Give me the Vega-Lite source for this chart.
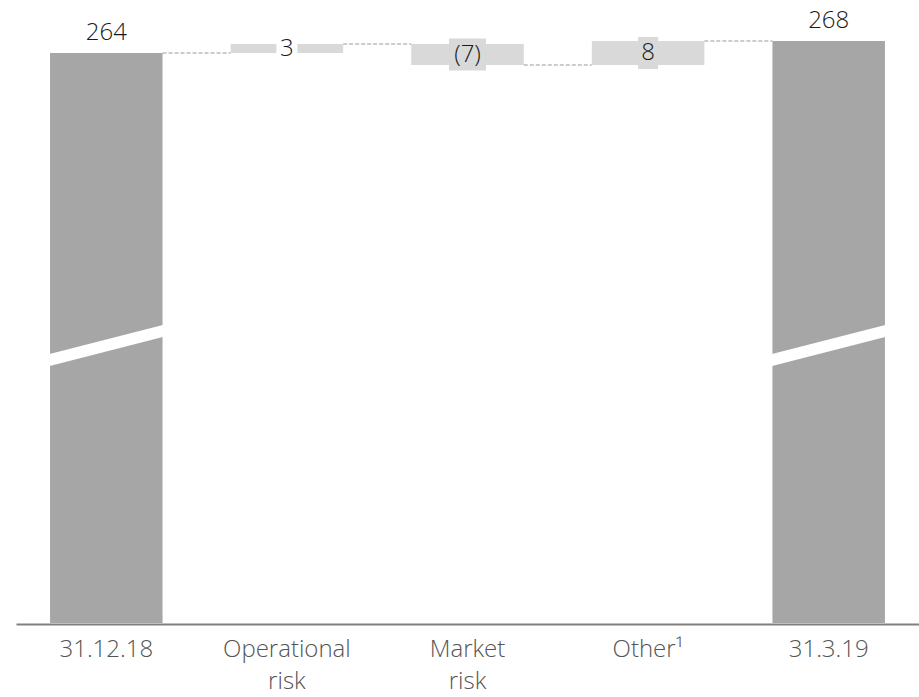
{
  "$schema": "https://vega.github.io/schema/vega-lite/v6.json",
  "width": 903,
  "height": 623,
  "autosize": "none",
  "padding": {"left": 16, "top": 0, "right": 0, "bottom": 74},
  "background": "white",
  "config": {
    "view": {"stroke": null},
    "font": "Open Sans",
    "axisX": {"title": null, "domainColor": "#808080", "domainWidth": 2, "ticks": false, "tickSize": 0, "offset": 1,
              "labelFontSize": 24, "labelColor": "#555555", "labelFont": "Open Sans", "labelFontWeight": 300,
              "labelPadding": 13, "labelLineHeight": 32, "labelAngle": 0, "labelLimit": 0, "grid": false,
              "labelExpr": "split(datum.label, ' ')"}
  },
  "datasets": {
    "bars": [
      {"cat": "31.12.18", "start": 0, "end": 264, "label": "264", "kind": "total"},
      {"cat": "Operational risk", "start": 264, "end": 267, "label": "3", "kind": "delta"},
      {"cat": "Market risk", "start": 267, "end": 260, "label": "(7)", "kind": "delta"},
      {"cat": "Other¹", "start": 260, "end": 268, "label": "8", "kind": "delta"},
      {"cat": "31.3.19", "start": 0, "end": 268, "label": "268", "kind": "total"}
    ],
    "links": [
      {"from": "31.12.18", "to": "Operational risk", "level": 264},
      {"from": "Operational risk", "to": "Market risk", "level": 267},
      {"from": "Market risk", "to": "Other¹", "level": 260},
      {"from": "Other¹", "to": "31.3.19", "level": 268}
    ],
    "breaks": [
      {"cat": "31.12.18", "lo": 161.7, "hi": 171.3},
      {"cat": "31.3.19", "lo": 161.7, "hi": 171.3}
    ]
  },
  "layer": [
    {
      "data": {"name": "bars"},
      "mark": {"type": "bar"},
      "encoding": {
        "x": {"field": "cat", "type": "nominal", "sort": null, "title": null,
              "scale": {"domain": ["31.12.18", "Operational risk", "Market risk", "Other¹", "31.3.19"], "paddingInner": 0.377, "paddingOuter": 0.1885}},
        "y": {"field": "start", "type": "quantitative", "axis": null,
              "scale": {"domain": [74, 281.67], "nice": false, "zero": false, "clamp": true}},
        "y2": {"field": "end"},
        "color": {"field": "kind", "type": "nominal", "legend": null,
                  "scale": {"domain": ["total", "delta"], "range": ["#a6a6a6", "#d9d9d9"]}}
      }
    },
    {
      "data": {"name": "links"},
      "mark": {"type": "rule", "strokeDash": [4, 2], "color": "#999999", "strokeWidth": 1},
      "encoding": {
        "x": {"field": "from", "type": "nominal", "bandPosition": 1, "title": null,
              "scale": {"domain": ["31.12.18", "Operational risk", "Market risk", "Other¹", "31.3.19"], "paddingInner": 0.377, "paddingOuter": 0.1885}},
        "x2": {"field": "to", "bandPosition": 0},
        "y": {"field": "level", "type": "quantitative", "axis": null,
              "scale": {"domain": [74, 281.67], "nice": false, "zero": false, "clamp": true}}
      }
    },
    {
      "data": {"name": "breaks"},
      "mark": {"type": "rule", "color": "white", "strokeWidth": 11.6, "strokeCap": "square"},
      "encoding": {
        "x": {"field": "cat", "type": "nominal", "bandPosition": 0, "title": null,
              "scale": {"domain": ["31.12.18", "Operational risk", "Market risk", "Other¹", "31.3.19"], "paddingInner": 0.377, "paddingOuter": 0.1885}},
        "x2": {"field": "cat", "bandPosition": 1},
        "y": {"field": "lo", "type": "quantitative", "axis": null,
              "scale": {"domain": [74, 281.67], "nice": false, "zero": false, "clamp": true}},
        "y2": {"field": "hi"}
      }
    },
    {
      "data": {"name": "bars"},
      "transform": [
        {"filter": "datum.kind == 'delta'"},
        {"calculate": "(datum.start + datum.end) / 2", "as": "mid"}
      ],
      "layer": [
        {
          "transform": [{"filter": "datum.cat == 'Market risk'"}],
          "mark": {"type": "tick", "size": 37, "thickness": 32, "color": "#d9d9d9", "opacity": 1},
          "encoding": {
            "x": {"field": "cat", "type": "nominal", "title": null,
                  "scale": {"domain": ["31.12.18", "Operational risk", "Market risk", "Other¹", "31.3.19"], "paddingInner": 0.377, "paddingOuter": 0.1885}},
            "y": {"field": "mid", "type": "quantitative", "axis": null,
                  "scale": {"domain": [74, 281.67], "nice": false, "zero": false, "clamp": true}}
          }
        },
        {
          "transform": [{"filter": "datum.cat == 'Other¹'"}],
          "mark": {"type": "tick", "size": 20, "thickness": 32, "color": "#d9d9d9", "opacity": 1},
          "encoding": {
            "x": {"field": "cat", "type": "nominal", "title": null,
                  "scale": {"domain": ["31.12.18", "Operational risk", "Market risk", "Other¹", "31.3.19"], "paddingInner": 0.377, "paddingOuter": 0.1885}},
            "y": {"field": "mid", "type": "quantitative", "axis": null,
                  "scale": {"domain": [74, 281.67], "nice": false, "zero": false, "clamp": true}}
          }
        },
        {
          "transform": [{"filter": "datum.cat == 'Operational risk'"}],
          "mark": {"type": "tick", "size": 21, "thickness": 32, "color": "white", "opacity": 1},
          "encoding": {
            "x": {"field": "cat", "type": "nominal", "title": null,
                  "scale": {"domain": ["31.12.18", "Operational risk", "Market risk", "Other¹", "31.3.19"], "paddingInner": 0.377, "paddingOuter": 0.1885}},
            "y": {"field": "mid", "type": "quantitative", "axis": null,
                  "scale": {"domain": [74, 281.67], "nice": false, "zero": false, "clamp": true}}
          }
        },
        {
          "mark": {"type": "text", "fontSize": 24, "font": "Open Sans", "fontWeight": 300, "color": "#1a1a1a", "baseline": "middle", "align": "center"},
          "encoding": {
            "x": {"field": "cat", "type": "nominal", "title": null,
                  "scale": {"domain": ["31.12.18", "Operational risk", "Market risk", "Other¹", "31.3.19"], "paddingInner": 0.377, "paddingOuter": 0.1885}},
            "y": {"field": "mid", "type": "quantitative", "axis": null,
                  "scale": {"domain": [74, 281.67], "nice": false, "zero": false, "clamp": true}},
            "text": {"field": "label"}
          }
        }
      ]
    },
    {
      "data": {"name": "bars"},
      "transform": [{"filter": "datum.kind == 'total'"}],
      "mark": {"type": "text", "fontSize": 24, "font": "Open Sans", "fontWeight": 300, "color": "#1a1a1a", "baseline": "alphabetic", "align": "center", "dy": -13},
      "encoding": {
        "x": {"field": "cat", "type": "nominal", "title": null,
              "scale": {"domain": ["31.12.18", "Operational risk", "Market risk", "Other¹", "31.3.19"], "paddingInner": 0.377, "paddingOuter": 0.1885}},
        "y": {"field": "end", "type": "quantitative", "axis": null,
              "scale": {"domain": [74, 281.67], "nice": false, "zero": false, "clamp": true}},
        "text": {"field": "label"}
      }
    }
  ]
}
